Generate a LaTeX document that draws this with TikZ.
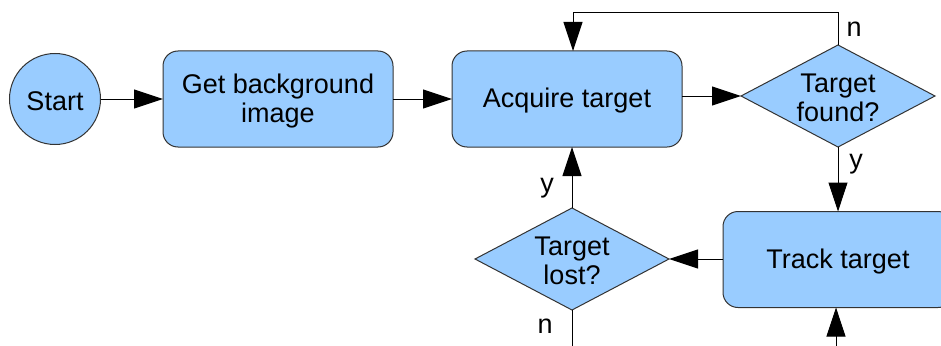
\documentclass[tikz,border=0pt]{standalone}
\usepackage{fontspec}
\setmainfont{Liberation Sans}
\usetikzlibrary{arrows.meta,shapes.geometric}
\definecolor{boxfill}{HTML}{99CCFF}
\definecolor{boxline}{HTML}{333333}
\tikzset{
  box/.style={draw=boxline, fill=boxfill, line width=1pt, rounded corners=15pt,
    minimum width=230pt, minimum height=96pt, inner sep=0pt, outer sep=0pt},
  startbox/.style={draw=boxline, fill=boxfill, line width=1pt, circle,
    minimum size=91pt, inner sep=0pt, outer sep=0pt},
  decision/.style={draw=boxline, fill=boxfill, line width=1pt, diamond, aspect=1.9,
    minimum width=194pt, minimum height=102pt, inner sep=0pt, outer sep=0pt},
  txt/.style={align=center, inner sep=0pt, yshift=-2pt},
  lbl/.style={inner sep=0pt},
  arr/.style={line width=1pt, -{Triangle[length=29pt,width=19pt]}},
  plain/.style={line width=1pt},
}
\begin{document}
\begin{tikzpicture}[x=1pt,y=-1pt,font=\fontsize{27}{29}\selectfont]
\useasboundingbox (0,0) rectangle (941,345);
\node[startbox] (start) at (55,99) {};
\node[txt] (starttxt) at (start.center) {Start};
\node[box] (get) at (278,99) {};
\node[txt] (gettxt) at (get.center) {Get background\\image};
\node[box] (acq) at (567,99) {};
\node[txt] (acqtxt) at (acq.center) {Acquire target};
\node[decision] (found) at (838,96) {};
\node[txt] (foundtxt) at (found.center) {Target\\found?};
\node[box] (track) at (838,259.5) {};
\node[txt] (tracktxt) at (track.center) {Track target};
\node[decision] (lost) at (572,259) {};
\node[txt] (losttxt) at (lost.center) {Target\\lost?};
\coordinate (loop) at (573,13);
\coordinate (lostend) at (572,350);
\coordinate (trackin) at (836,350);
\node[lbl] (nfound) at (854,29) {n};
\node[lbl] (yfound) at (856,164) {y};
\node[lbl] (ylost) at (547,188) {y};
\node[lbl] (nlost) at (545,326) {n};
\draw[arr] (start.east |- get.west) -- (get.west);
\draw[arr] (get.east |- acq.west) -- (acq.west);
\draw[arr] (acq.east |- found.west) -- (found.west);
\draw[arr] (found.north) |- (loop) -- (loop |- acq.north);
\draw[arr] (found.south) -- (track.north);
\draw[arr] (track.west |- lost.east) -- (lost.east);
\draw[arr] (lost.north) -- (lost.north |- acq.south);
\draw[plain] (lost.south) -- (lostend);
\draw[arr] (trackin) -- (trackin |- track.south);
\end{tikzpicture}
\end{document}
